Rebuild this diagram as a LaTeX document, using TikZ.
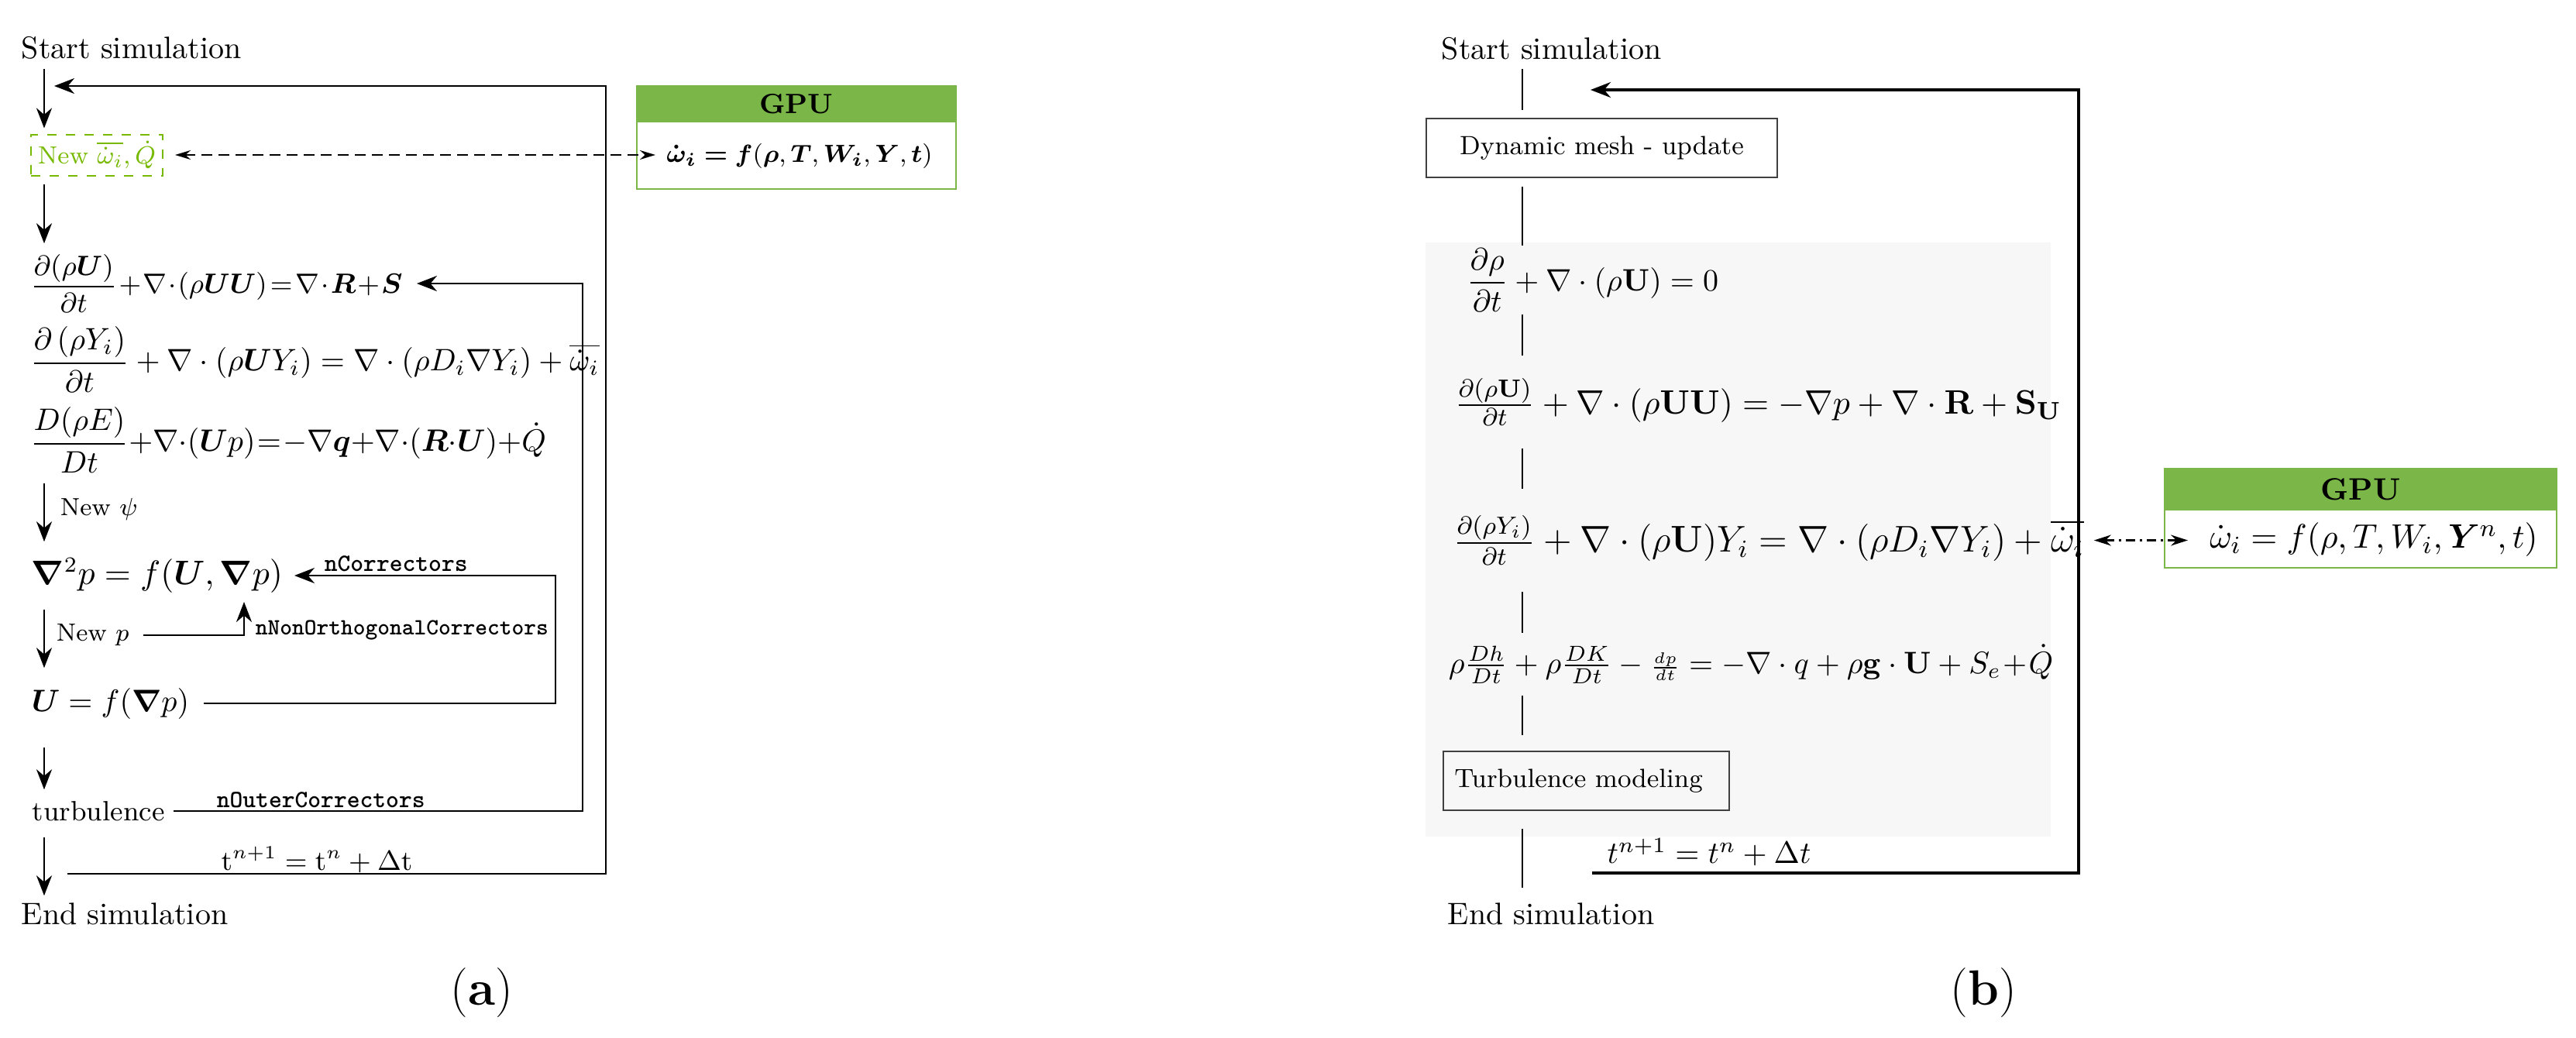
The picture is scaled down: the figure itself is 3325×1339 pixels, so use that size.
\documentclass[tikz,border=0pt]{standalone}
\usepackage{amsmath,bm}
\usetikzlibrary{arrows.meta,calc}
\definecolor{gpugreen}{HTML}{7AB648}
\definecolor{nvgreen}{HTML}{76B900}
\definecolor{bggray}{HTML}{F7F7F7}
\newcommand{\tightmath}{\medmuskip=1mu plus 1mu\thickmuskip=2mu plus 1mu}
\newcommand{\tightermath}{\medmuskip=0mu plus 1mu\thickmuskip=1mu plus 1mu}
\begin{document}
\begin{tikzpicture}[x=0.25pt,y=-0.25pt,
  txt/.style={inner xsep=0pt,inner ysep=0pt,anchor=west},
  flow/.style={line width=0.7pt,-{Stealth[length=6.5pt,width=5pt]}},
  seg/.style={line width=0.45pt},
  plainbox/.style={draw=black!75,line width=0.35pt,inner sep=0pt,font=\fontsize{8.5}{10}\selectfont},
  gpuhead/.style={fill=gpugreen,draw=gpugreen,line width=0.6pt,inner sep=0pt,font=\bfseries},
  gpubody/.style={draw=gpugreen,fill=white,line width=0.6pt,inner sep=0pt},
  ctl/.style={txt,font=\footnotesize\ttfamily\bfseries},
  lbl/.style={txt,font=\footnotesize},
  dasharr/.style={line width=0.6pt,dash pattern=on 3.5pt off 2pt,
     {Stealth[length=5pt,width=3pt]}-{Stealth[length=5pt,width=3pt]}},
  dotarr/.style={line width=0.6pt,dash pattern=on 3pt off 1.5pt on 0.8pt off 1.5pt,
     {Stealth[length=5.5pt,width=3.5pt]}-{Stealth[length=5.5pt,width=3.5pt]}},
  captxt/.style={font=\fontsize{16}{18}\selectfont}
]
\useasboundingbox (0,0) rectangle (3325,1339);

% ================= panel (a) =================
\coordinate (axA) at (57,0);
\coordinate (ncX) at (717,0);
\coordinate (noX) at (752,0);
\coordinate (outX) at (782,0);

\node[txt,minimum height=13pt] (startA) at (27,62) {Start simulation};
\node[draw=nvgreen,dashed,line width=0.5pt,text=nvgreen,minimum width=42.5pt,minimum height=13.25pt,inner sep=1pt,font=\footnotesize] (newW) at (125,200) {New $\overline{\dot{\omega}_i}, \dot{Q}$};

\node[txt,minimum height=25.5pt,font=\fontsize{9}{11}\selectfont] (eqA1) at (38,366)
  {$\tightmath\displaystyle\frac{\partial(\rho\boldsymbol{U})}{\partial t}+\nabla\cdot(\rho\boldsymbol{U}\boldsymbol{U})=\nabla\cdot\boldsymbol{R}+\boldsymbol{S}$};
\node[txt] (eqA2) at (38,464)
  {$\displaystyle\frac{\partial\left(\rho Y_i\right)}{\partial t}+\nabla\cdot(\rho\boldsymbol{U}Y_i)=\nabla\cdot(\rho D_i\nabla Y_i)+\overline{\dot{\omega}_i}$};
\node[txt,minimum height=27.5pt] (eqA3) at (38,568)
  {$\tightermath\displaystyle\frac{D(\rho E)}{Dt}+\nabla\cdot(\boldsymbol{U}p) = -\nabla\boldsymbol{q}+\nabla\cdot(\boldsymbol{R}\cdot\boldsymbol{U})+\dot{Q}$};
\node[txt,minimum height=21.5pt,font=\fontsize{10.5}{12.5}\selectfont] (poisA) at (40,743)
  {$\bm{\nabla}^2 p = f(\bm{U},\bm{\nabla} p)$};
\node[txt,minimum height=22.5pt] (UA) at (40,908)
  {$\bm{U} = f(\bm{\nabla} p)$};
\node[txt,minimum height=13.5pt,font=\small] (turbA) at (41,1047) {turbulence};
\node[txt,minimum height=11.5pt] (endA) at (27,1180) {End simulation};

\node[lbl] (lpsi) at (77,657) {New $\psi$};
\node[lbl] (lp) at (72,820) {New $p$};
\node[ctl] (lnc) at (418,728) {nCorrectors};
\node[ctl,font=\fontsize{7.5}{9}\selectfont\ttfamily\bfseries] (lnno) at (329,813) {nNonOrthogonalCorrectors};
\node[ctl] (lnoc) at (279,1033) {nOuterCorrectors};
\node[font=\small] (ltA) at (409,1110) {$\mathrm{t}^{n+1} = \mathrm{t}^{n} + \Delta\mathrm{t}$};
\node[captxt] (capA) at (622,1282) {(\textbf{a})};

\node[gpuhead,minimum width=103pt,minimum height=11.5pt,font=\small\bfseries] (gpuHA) at (1028,134) {GPU};
\node[gpubody,minimum width=103pt,minimum height=21.75pt] (gpuBA) at (1028,200.5) {};
\node[inner sep=0pt,font=\footnotesize] (gpuTA) at (1032,201) {$\bm{\dot{\omega}_i} \bm{=} \bm{f}(\bm{\rho},\bm{T},\bm{W}_{\bm{i}},\bm{Y},\bm{t})$};
\coordinate (gpuInA) at (846,200);
\coordinate (nnoTip) at (315,777);
\coordinate (poisIn) at (380,743);
\coordinate (eqAIn) at (538,366);
\coordinate (botA) at (87,1128);
\coordinate (topA) at (70,111);

% vertical flow
\draw[flow,shorten >=1.75pt] (startA.south -| axA) -- (newW.north -| axA);
\draw[flow,shorten <=2.5pt] (newW.south -| axA) -- (eqA1.north -| axA);
\draw[flow] (eqA3.south -| axA) -- (poisA.north -| axA);
\draw[flow] (poisA.south -| axA) -- (UA.north -| axA);
\draw[flow,shorten <=2.75pt] (UA.south -| axA) -- (turbA.north -| axA);
\draw[flow,shorten <=1.5pt] (turbA.south -| axA) -- (endA.north -| axA);
% loops
\draw[flow] ([xshift=4.5pt]lp.east) -| (nnoTip);
\draw[flow] ([xshift=4.5pt]UA.east) -| (ncX |- poisIn) -- (poisIn);
\draw[flow] ([xshift=2.75pt]turbA.east) -| (noX |- eqAIn) -- (eqAIn);
\draw[flow] (botA) -| (outX |- topA) -- (topA);
\draw[dasharr,shorten <=3.75pt] (newW.east) -- (gpuInA);

% ================= panel (b) =================
\fill[bggray] (1840,313) rectangle (2647,1080);
\coordinate (axB) at (1965,0);
\coordinate (outXB) at (2683,0);

\node[txt,minimum height=12.5pt] (startB) at (1860,63) {Start simulation};
\node[plainbox,minimum width=113.25pt,minimum height=19pt] (dynB) at (2067.5,191) {Dynamic mesh - update};
\node[txt,minimum height=21.75pt] (eqB1) at (1892,361.5)
  {$\displaystyle\frac{\partial\rho}{\partial t}+\nabla\cdot(\rho\mathbf{U})=0$};
\node[txt,minimum height=29.5pt,font=\fontsize{10.95}{13}\selectfont] (eqB2) at (1877,519)
  {$\frac{\partial(\rho\mathbf{U})}{\partial t}+\nabla\cdot(\rho\mathbf{U}\mathbf{U})=-\nabla p+\nabla\cdot\mathbf{R}+\mathbf{S}_{\mathbf{U}}$};
\node[txt,minimum height=32.75pt,font=\fontsize{12}{14}\selectfont] (eqB3) at (1875,697.5)
  {$\frac{\partial(\rho Y_i)}{\partial t}+\nabla\cdot(\rho\mathbf{U})Y_i=\nabla\cdot(\rho D_i\nabla Y_i)+\overline{\dot{\omega}_i}$};
\node[txt,minimum height=19.75pt] (eqB4) at (1869,857.5)
  {$\rho\frac{Dh}{Dt}+\rho\frac{DK}{Dt}-{\scriptstyle\frac{dp}{dt}}=-\nabla\cdot q+\rho\mathbf{g}\cdot\mathbf{U}+S_e\!+\!\dot{Q}$};
\node[plainbox,minimum width=92.25pt,minimum height=19pt] (turbB) at (2047.5,1008) {Turbulence modeling\hspace*{5pt}};
\node[txt,minimum height=16.5pt] (endB) at (1868,1180) {End simulation};
\node (ltB) at (2206,1100) {$t^{n+1} = t^{n} + \Delta t$};
\node[captxt] (capB) at (2560,1282) {(\textbf{b})};

\node[gpuhead,minimum width=126.5pt,minimum height=13.25pt] (gpuHB) at (3047,631.5) {GPU};
\node[gpubody,minimum width=126.5pt,minimum height=18.75pt] (gpuBB) at (3047,695.5) {};
\node[inner sep=0pt,font=\fontsize{10.95}{13}\selectfont] (gpuTB) at (3064,697) {$\dot{\omega}_i = f(\rho,T,W_i,\bm{Y}^n,t)$};
\coordinate (gpuInB) at (2824,697.5);
\coordinate (botB) at (2055,1127);
\coordinate (topB) at (2053,116);

\draw[seg,shorten >=2.5pt] (startB.south -| axB) -- (dynB.north -| axB);
\draw[seg,shorten <=2.75pt] (dynB.south -| axB) -- (eqB1.north -| axB);
\draw[seg] (eqB1.south -| axB) -- (eqB2.north -| axB);
\draw[seg] (eqB2.south -| axB) -- (eqB3.north -| axB);
\draw[seg] (eqB3.south -| axB) -- (eqB4.north -| axB);
\draw[seg,shorten >=5pt] (eqB4.south -| axB) -- (turbB.north -| axB);
\draw[seg,shorten <=5.75pt] (turbB.south -| axB) -- (endB.north -| axB);
\draw[flow,line width=0.8pt] (botB) -| (outXB |- topB) -- (topB);
\draw[dotarr,shorten <=3pt] (eqB3.east) -- (gpuInB);
\end{tikzpicture}
\end{document}
